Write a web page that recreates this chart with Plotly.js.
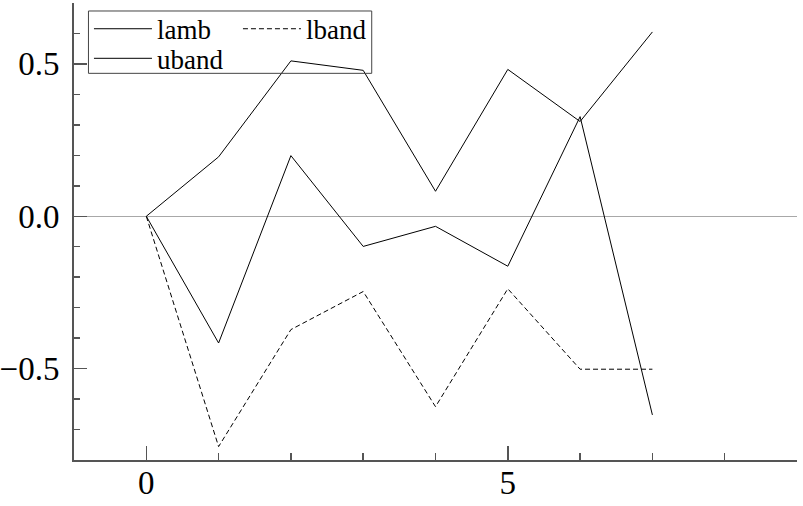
<!DOCTYPE html>
<html>
<head>
<meta charset="utf-8">
<script src="https://cdn.plot.ly/plotly-3.0.1.min.js"></script>
<style>html,body{margin:0;padding:0;background:#fff;}#chart{width:803px;height:506px;}</style>
</head>
<body>
<div id="chart"></div>
<script>
var horizon = [0, 1, 2, 3, 4, 5, 6, 7];
var lamb  = [0, -0.416, 0.199, -0.099, -0.033, -0.164, 0.327, -0.652];
var lband = [0, -0.756, -0.372, -0.247, -0.625, -0.238, -0.502, -0.502];
var uband = [0, 0.195, 0.51, 0.479, 0.082, 0.482, 0.311, 0.605];
var seriesNames = ['lamb', 'lband', 'uband'];

var fontFamily = '"Liberation Serif", "Times New Roman", serif';

var traces = [
  {x: horizon, y: lamb, name: seriesNames[0], mode: 'lines', legend: 'legend',
   line: {color: '#000', width: 1}},
  {x: horizon, y: lband, name: seriesNames[1], mode: 'lines', legend: 'legend',
   line: {color: '#000', width: 1, dash: '5px,3px'}},
  {x: horizon, y: uband, name: seriesNames[2], mode: 'lines', legend: 'legend2',
   line: {color: '#000', width: 1}}
];

var legendFont = {family: fontFamily, size: 27, color: '#000'};
var legendCommon = {
  xanchor: 'left', yanchor: 'middle', orientation: 'h',
  itemwidth: 58, entrywidth: 76, entrywidthmode: 'pixels',
  bgcolor: 'rgba(0,0,0,0)', borderwidth: 0, font: legendFont
};

var layout = {
  width: 803, height: 506,
  margin: {l: 74, r: 6, t: 3, b: 46, pad: 0},
  paper_bgcolor: '#fff', plot_bgcolor: '#fff',
  font: {family: fontFamily, color: '#000', size: 33},
  showlegend: true,
  legend: Object.assign({x: 0.0207, y: 0.9427}, legendCommon),
  legend2: Object.assign({x: 0.0207, y: 0.8780}, legendCommon),
  shapes: [{
    type: 'rect', xref: 'paper', yref: 'paper', layer: 'above',
    x0: 0.0200, x1: 0.4118, y0: 0.8461, y1: 0.9825,
    line: {color: '#444', width: 1}, fillcolor: 'rgba(0,0,0,0)'
  }],
  xaxis: {
    range: [-1, 9], showgrid: false, zeroline: false,
    showline: true, linecolor: '#555', linewidth: 2,
    ticks: 'inside', ticklen: 14, tickwidth: 1.5, tickcolor: '#555',
    dtick: 5, tick0: 0,
    minor: {dtick: 1, ticks: 'inside', ticklen: 7, tickwidth: 1.5, tickcolor: '#555', showgrid: false},
    tickfont: {family: fontFamily, size: 33, color: '#000'},
    ticklabelstandoff: -8,
    fixedrange: true
  },
  yaxis: {
    range: [-0.8, 0.7], showgrid: false,
    zeroline: true, zerolinecolor: '#a8a8a8', zerolinewidth: 1,
    showline: true, linecolor: '#555', linewidth: 2,
    ticks: 'inside', ticklen: 13, tickwidth: 1.5, tickcolor: '#555',
    dtick: 0.5, tick0: 0, tickformat: '.1f',
    minor: {dtick: 0.1, ticks: 'inside', ticklen: 6, tickwidth: 1.5, tickcolor: '#555', showgrid: false},
    tickfont: {family: fontFamily, size: 33, color: '#000'},
    ticklabelstandoff: 6,
    fixedrange: true
  }
};

Plotly.newPlot('chart', traces, layout, {staticPlot: true, displayModeBar: false});
</script>
</body>
</html>
